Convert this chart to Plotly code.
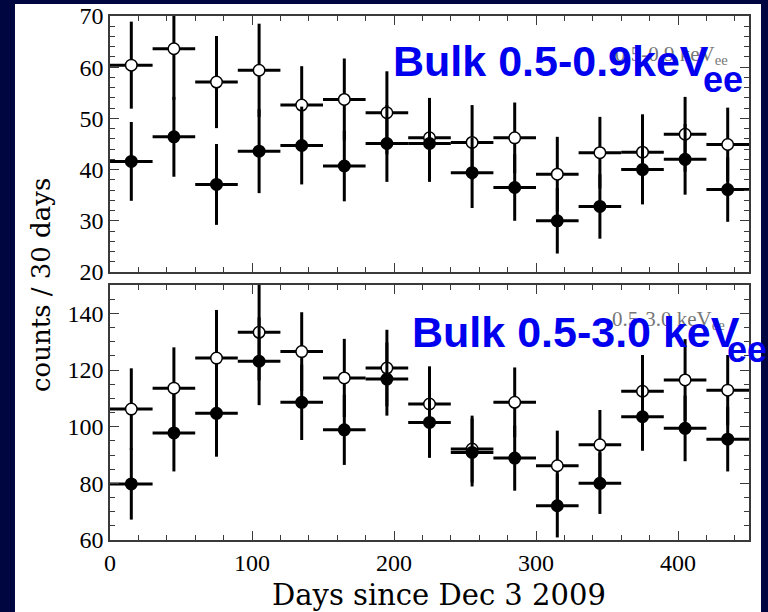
import plotly.graph_objects as go

# ---- data ----
bin_centers = [15, 45, 75, 105, 135, 165, 195, 225, 255, 285, 315, 345, 375, 405, 435]
bin_half_width = 15

# top panel: Bulk 0.5-0.9 keVee
top_open = [60.4, 63.6, 57.1, 59.4, 52.6, 53.7, 51.1, 46.2, 45.3, 46.2, 39.1, 43.3, 43.4, 46.9, 44.9]
top_open_err = [8.5, 10.0, 9.0, 9.1, 7.6, 8.0, 8.1, 7.8, 7.3, 6.9, 7.3, 7.0, 7.4, 7.3, 7.2]
top_fill = [41.6, 46.4, 37.1, 43.6, 44.7, 40.7, 45.1, 45.1, 39.4, 36.5, 30.0, 32.8, 40.0, 42.0, 36.1]
top_fill_err = [7.7, 7.8, 7.9, 8.2, 7.6, 6.9, 7.5, 7.5, 6.9, 6.5, 6.4, 6.3, 6.8, 6.9, 6.3]

# bottom panel: Bulk 0.5-3.0 keVee
bot_open = [106.2, 113.6, 124.2, 133.3, 126.5, 117.2, 120.7, 108.0, 92.1, 108.6, 86.2, 93.6, 112.5, 116.5, 112.9]
bot_open_err = [14.4, 14.4, 17.0, 17.0, 13.9, 13.8, 13.5, 13.3, 11.8, 12.3, 12.4, 12.3, 12.8, 14.4, 12.4]
bot_fill = [79.8, 97.8, 104.7, 123.1, 108.6, 98.9, 116.8, 101.5, 90.9, 88.9, 72.1, 80.0, 103.5, 99.4, 95.6]
bot_fill_err = [12.6, 13.6, 15.3, 15.5, 13.3, 12.4, 12.9, 12.5, 12.0, 11.5, 11.2, 10.8, 12.0, 11.6, 11.4]

x_ticks = [0, 100, 200, 300, 400]

NAVY = "#00063f"
AXC = "#3a3a3a"
SERIF_T = "Liberation Serif"
SERIF_W = "DejaVu Serif"


def add_series(fig, y, err, filled, xa, ya):
    fig.add_trace(go.Scatter(
        x=bin_centers, y=y, mode="markers",
        xaxis=xa, yaxis=ya, showlegend=False,
        error_x=dict(type="constant", value=bin_half_width, color="black",
                     thickness=3, width=0),
        error_y=dict(type="data", array=err, color="black", thickness=3, width=0),
        marker=dict(size=11.5, color="black" if filled else "white",
                    line=dict(color="black", width=1.5)),
    ))


fig = go.Figure()
add_series(fig, top_open, top_open_err, False, "x2", "y2")
add_series(fig, top_fill, top_fill_err, True, "x2", "y2")
add_series(fig, bot_open, bot_open_err, False, "x", "y")
add_series(fig, bot_fill, bot_fill_err, True, "x", "y")

common_ax = dict(showline=True, linecolor=AXC, linewidth=1.5, mirror="ticks",
                 ticks="inside", tickcolor=AXC, tickwidth=1.3, ticklen=9,
                 showgrid=False, zeroline=False, automargin=False,
                 tickfont=dict(family=SERIF_T, size=24, color="black"))

fig.update_layout(
    width=768, height=612,
    margin=dict(l=110, r=19, t=16, b=72, autoexpand=False),
    paper_bgcolor=NAVY, plot_bgcolor="white",
    xaxis=dict(range=[0, 450], tickvals=x_ticks, anchor="y",
               minor=dict(dtick=20, tick0=0, ticks="inside", ticklen=5, tickcolor=AXC, tickwidth=1.2),
               **common_ax),
    xaxis2=dict(range=[0, 450], tickvals=x_ticks, anchor="y2", matches="x", showticklabels=False,
                minor=dict(dtick=20, tick0=0, ticks="inside", ticklen=5, tickcolor=AXC, tickwidth=1.2),
                **common_ax),
    yaxis=dict(domain=[0, 0.4866], range=[60, 150], dtick=20, tick0=0, anchor="x",
               minor=dict(dtick=5, tick0=0, ticks="inside", ticklen=5, tickcolor=AXC, tickwidth=1.2),
               **common_ax),
    yaxis2=dict(domain=[0.5115, 1], range=[20, 70], dtick=10, tick0=0, anchor="x2",
                minor=dict(dtick=2, tick0=0, ticks="inside", ticklen=5, tickcolor=AXC, tickwidth=1.2),
                **common_ax),
    shapes=[dict(type="rect", xref="paper", yref="paper", x0=-0.1487, x1=1.0188,
                 y0=-0.1374, y1=1.0229, fillcolor="white", line=dict(width=0), layer="below")],
)

annotations = [
    # faint original labels
    dict(text="0.5-0.9 keV<sub>ee</sub>", xref="x2", yref="y2", x=354, y=62.4,
         xanchor="left", yanchor="middle", showarrow=False,
         font=dict(family=SERIF_T, size=21, color="#777777")),
    dict(text="0.5-3.0 keV<sub>ee</sub>", xref="x", yref="y", x=352, y=137.6,
         xanchor="left", yanchor="middle", showarrow=False,
         font=dict(family=SERIF_T, size=21, color="#777777")),
    # blue overlay labels
    dict(text="<b>Bulk 0.5-0.9keV</b>", xref="x2", yref="y2", x=198, y=61.2,
         xanchor="left", yanchor="middle", showarrow=False,
         font=dict(family="Liberation Sans", size=43, color="#0000ee")),
    dict(text="<b>ee</b>", xref="x2", yref="y2", x=416, y=57.6,
         xanchor="left", yanchor="middle", showarrow=False,
         font=dict(family="Liberation Sans", size=36, color="#0000ee")),
    dict(text="<b>Bulk 0.5-3.0 keV</b>", xref="x", yref="y", x=211.5, y=133.4,
         xanchor="left", yanchor="middle", showarrow=False,
         font=dict(family="Liberation Sans", size=43, color="#0000ee")),
    dict(text="<b>ee</b>", xref="x", yref="y", x=433, y=127.3,
         xanchor="left", yanchor="middle", showarrow=False,
         font=dict(family="Liberation Sans", size=36, color="#0000ee")),
    # axis titles
    dict(text="Days since Dec 3 2009", xref="paper", yref="paper", x=0.5156, y=-0.1050,
         xanchor="center", yanchor="middle", showarrow=False,
         font=dict(family=SERIF_W, size=29, color="black")),
    dict(text="counts / 30 days", xref="paper", yref="paper", x=-0.108, y=0.4866,
         xanchor="center", yanchor="middle", showarrow=False, textangle=-90,
         font=dict(family=SERIF_W, size=26, color="black")),
]
fig.update_layout(annotations=annotations)

fig.write_html("out.html")
